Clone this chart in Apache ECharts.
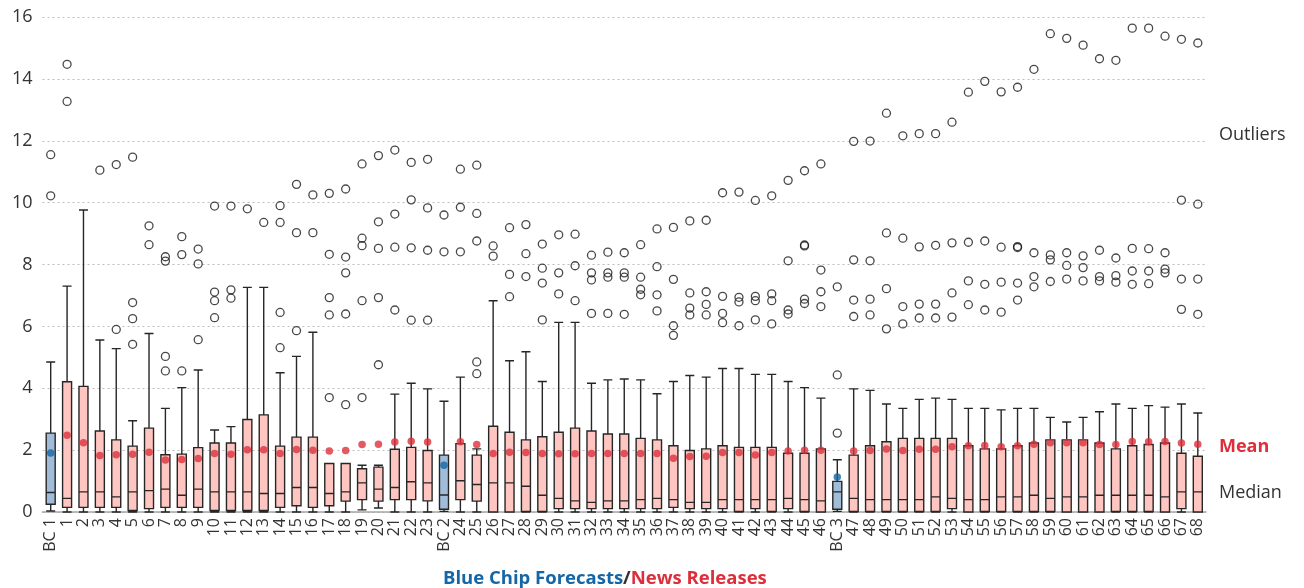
<!DOCTYPE html>
<html>
<head>
<meta charset="utf-8">
<script src="https://cdn.jsdelivr.net/npm/echarts@6/dist/echarts.min.js"></script>
<style>
  html, body { margin: 0; padding: 0; background: #fff; }
  #chart { width: 1304px; height: 588px; }
</style>
</head>
<body>
<div id="chart"></div>
<script>
// Forecast error distributions: Blue Chip survey rounds (BC) and news-release rounds.
const categories = [
  'BC 1','1','2','3','4','5','6','7','8','9','10','11','12','13','14','15','16','17','18','19','20','21','22','23',
  'BC 2','24','25','26','27','28','29','30','31','32','33','34','35','36','37','38','39','40','41','42','43','44','45','46',
  'BC 3','47','48','49','50','51','52','53','54','55','56','57','58','59','60','61','62','63','64','65','66','67','68'
];

// Whisker ends, quartiles and medians
const lowWhisker = [
  0.03,0,0,0,0,0,0,0,0,0,0,0,0,0,0,0,0,0,0,0.07,0.13,0,0,0,
  0.02,0,0,0,0,0,0,0,0,0,0,0,0,0,0,0,0,0,0,0,0,0,0,0,
  0.02,0,0,0,0,0,0,0,0,0,0,0,0,0,0,0,0,0,0,0,0,0,0
];
const q1 = [
  0.25,0.15,0.15,0.15,0.15,0.05,0.11,0.15,0.15,0.15,0.05,0.05,0.05,0.05,0.15,0.20,0.15,0.20,0.35,0.40,0.35,0.40,0.40,0.36,
  0.09,0.40,0.35,0,0,0.02,0.02,0.11,0.11,0.11,0.11,0.11,0.11,0.11,0.15,0.11,0.11,0.11,0.02,0.11,0.02,0.11,0.02,0,
  0.09,0.02,0.02,0.02,0.02,0.02,0.02,0.11,0,0.02,0.02,0.02,0.02,0.02,0,0,0,0.02,0.02,0.02,0,0.11,0
];
const median = [
  0.63,0.44,0.65,0.65,0.49,0.65,0.69,0.74,0.54,0.74,0.65,0.65,0.65,0.60,0.60,0.79,0.79,0.60,0.65,0.94,0.74,0.79,0.98,0.94,
  0.55,1.01,0.89,0.94,0.94,0.83,0.54,0.44,0.36,0.31,0.36,0.36,0.40,0.44,0.40,0.31,0.31,0.40,0.40,0.40,0.40,0.44,0.40,0.36,
  0.65,0.44,0.40,0.40,0.40,0.40,0.49,0.44,0.40,0.40,0.49,0.49,0.54,0.44,0.49,0.49,0.54,0.54,0.54,0.54,0.49,0.65,0.65
];
const q3 = [
  2.55,4.21,4.06,2.62,2.33,2.13,2.71,1.85,1.87,2.08,2.23,2.23,2.99,3.14,2.13,2.42,2.42,1.57,1.57,1.40,1.45,2.03,2.09,1.99,
  1.84,2.21,1.84,2.77,2.58,2.33,2.43,2.58,2.71,2.62,2.52,2.52,2.38,2.33,2.14,1.99,2.04,2.14,2.09,2.09,2.09,1.90,1.90,2.04,
  0.99,1.84,2.14,2.27,2.38,2.38,2.38,2.38,2.14,2.04,2.04,2.14,2.23,2.33,2.33,2.33,2.23,2.04,2.14,2.18,2.23,1.90,1.80
];
const highWhisker = [
  4.85,7.30,9.76,5.56,5.28,2.95,5.77,3.35,4.02,4.59,2.65,2.76,7.26,7.26,4.50,5.03,5.81,1.57,1.57,1.51,1.51,3.81,4.16,3.98,
  3.58,4.36,2.04,6.83,4.89,5.18,4.22,6.13,6.13,4.16,4.27,4.30,4.27,3.82,4.22,4.41,4.36,4.64,4.64,4.45,4.45,4.22,4.02,3.68,
  1.69,3.98,3.93,3.49,3.35,3.64,3.68,3.64,3.35,3.35,3.30,3.35,3.35,3.06,2.91,3.06,3.24,3.49,3.35,3.44,3.39,3.49,3.20
];

// Means
const means = [
  1.91,2.48,2.24,1.83,1.85,1.87,1.93,1.68,1.70,1.73,1.89,1.87,2.01,2.01,1.89,2.02,2.00,1.97,1.99,2.18,2.19,2.26,2.29,2.26,
  1.51,2.27,2.18,1.89,1.93,1.92,1.89,1.88,1.88,1.89,1.89,1.89,1.89,1.89,1.74,1.79,1.80,1.92,1.92,1.84,1.92,1.97,2.00,2.00,
  1.13,1.97,1.99,2.04,1.99,2.03,2.03,2.11,2.14,2.15,2.11,2.14,2.19,2.24,2.24,2.24,2.18,2.18,2.28,2.27,2.28,2.23,2.19
];

// Outlying observations per round
const outliers = [
  [11.55,10.22],[14.47,13.27],[],[11.05],[11.23,5.90],[11.47,6.77,6.25,5.42],[9.25,8.64],[8.25,8.11,5.03,4.56],
  [8.90,8.32,4.56],[8.50,8.02,5.57],[9.89,7.11,6.83,6.28],[9.89,7.18,6.91],[9.80],[9.36],[9.90,9.36,6.45,5.31],
  [10.59,9.03,5.86],[10.25,9.03],[10.30,8.33,6.93,6.37,3.70],[10.44,8.24,7.73,6.40,3.47],[11.25,8.85,8.61,6.83,3.70],
  [11.52,9.38,8.52,6.93,4.76],[11.70,9.63,8.56,6.53],[11.30,10.09,8.54,6.20],[11.40,9.83,8.46,6.20],
  [9.60,8.41],[11.08,9.85,8.41],[11.21,9.65,8.76,4.85,4.47],[8.60,8.27],[9.19,7.68,6.96],[9.29,8.35,7.61],
  [8.66,7.88,7.40,6.21],[8.96,7.73,7.05],[8.98,7.96,6.83],[8.30,7.73,7.50,6.42],[8.40,7.73,7.59,6.42],
  [8.38,7.73,7.59,6.39],[8.64,7.59,7.20,7.02],[9.15,7.93,7.02,6.50],[9.20,7.52,6.02,5.71],[9.41,7.08,6.59,6.37],
  [9.43,7.12,6.71,6.37],[10.32,6.97,6.42,6.12],[10.34,6.94,6.79,6.02],[10.07,6.97,6.83,6.21],[10.22,7.05,6.83,6.08],
  [10.72,8.12,6.53,6.40],[11.03,8.63,8.60,6.88,6.74],[11.25,7.82,7.12,6.64],
  [7.28,4.43,2.55],[11.98,8.15,6.85,6.32],[11.99,8.12,6.88,6.37],[12.89,9.02,7.22,5.92],[12.16,8.85,6.64,6.08],
  [12.23,8.57,6.72,6.27],[12.23,8.62,6.72,6.27],[12.60,8.70,7.08,6.30],[13.57,8.72,7.47,6.70],[13.92,8.76,7.36,6.53],
  [13.58,8.56,7.43,6.46],[13.73,8.58,8.55,7.40,6.85],[14.31,8.38,7.61,7.28],[15.46,8.31,8.15,7.45],[15.31,8.38,7.97,7.53],
  [15.09,8.28,7.90,7.47],[14.65,8.46,7.61,7.47],[14.60,8.21,7.64,7.43],[15.64,8.52,7.79,7.36],[15.64,8.51,7.79,7.38],
  [15.38,8.38,7.85,7.73],[15.28,10.08,7.53,6.55],[15.16,9.95,7.53,6.39]
];

const yTicks = { min: 0, max: 16, interval: 2 };

const FONT = '"Open Sans", "Noto Sans", sans-serif';
const BOX_FILL = '#ffc6c1';
const BC_FILL = '#a0bcd9';
const EDGE = '#262626';
const RED = '#dd2f3b';
const BLUE = '#1566a6';

const isBC = name => name.indexOf('BC') === 0;

const boxData = categories.map((c, i) => ({
  value: [lowWhisker[i], q1[i], median[i], q3[i], highWhisker[i]],
  itemStyle: { color: isBC(c) ? BC_FILL : BOX_FILL }
}));

const meanData = categories.map((c, i) => ({
  value: [i, means[i]],
  itemStyle: { color: isBC(c) ? BLUE : RED }
}));

const outlierData = [];
outliers.forEach((list, i) => list.forEach(v => outlierData.push([i, v])));

const chart = echarts.init(document.getElementById('chart'), null, { renderer: 'canvas' });

chart.setOption({
  animation: false,
  backgroundColor: '#ffffff',
  textStyle: { fontFamily: FONT },
  grid: { left: 42.5, right: 98, top: 17, bottom: 76, containLabel: false },
  title: {
    text: '{b|Blue Chip Forecasts}{s|/}{r|News Releases}',
    left: 438,
    top: 564,
    textStyle: {
      rich: {
        b: { color: BLUE, fontSize: 18.5, fontWeight: 'bold', fontFamily: FONT },
        s: { color: '#333', fontSize: 18.5, fontWeight: 'bold', fontFamily: FONT },
        r: { color: RED, fontSize: 18.5, fontWeight: 'bold', fontFamily: FONT }
      }
    }
  },
  xAxis: {
    type: 'category',
    data: categories,
    boundaryGap: true,
    axisLine: { show: true, lineStyle: { color: '#a6a6a6', width: 1.5 } },
    axisTick: { show: false },
    axisLabel: {
      rotate: 90,
      interval: 0,
      margin: 6,
      fontSize: 16,
      color: '#333',
      fontFamily: FONT
    },
    splitLine: { show: false }
  },
  yAxis: {
    type: 'value',
    min: yTicks.min,
    max: yTicks.max,
    interval: yTicks.interval,
    axisLine: { show: false },
    axisTick: { show: false },
    axisLabel: { fontSize: 18, color: '#333', margin: 10, fontFamily: FONT },
    splitLine: { show: true, lineStyle: { color: '#bdbdbd', width: 1, type: [2, 3] } }
  },
  graphic: [
    { type: 'text', left: 1219, top: 126, style: { text: 'Outliers', fontSize: 18, fill: '#333', fontFamily: FONT } },
    { type: 'text', left: 1219, top: 438, style: { text: 'Mean', fontSize: 18, fontWeight: 'bold', fill: RED, fontFamily: FONT } },
    { type: 'text', left: 1219, top: 484, style: { text: 'Median', fontSize: 18, fill: '#333', fontFamily: FONT } }
  ],
  series: [
    {
      type: 'boxplot',
      data: boxData,
      boxWidth: [9, 9],
      itemStyle: { borderColor: EDGE, borderWidth: 1.4 },
      z: 2
    },
    {
      type: 'scatter',
      data: meanData,
      symbol: 'circle',
      symbolSize: 7.5,
      z: 4
    },
    {
      type: 'scatter',
      data: outlierData,
      symbol: 'circle',
      symbolSize: 8,
      itemStyle: { color: 'rgba(255,255,255,0)', borderColor: '#1a1a1a', borderWidth: 1.3 },
      z: 3
    }
  ]
});
</script>
</body>
</html>
